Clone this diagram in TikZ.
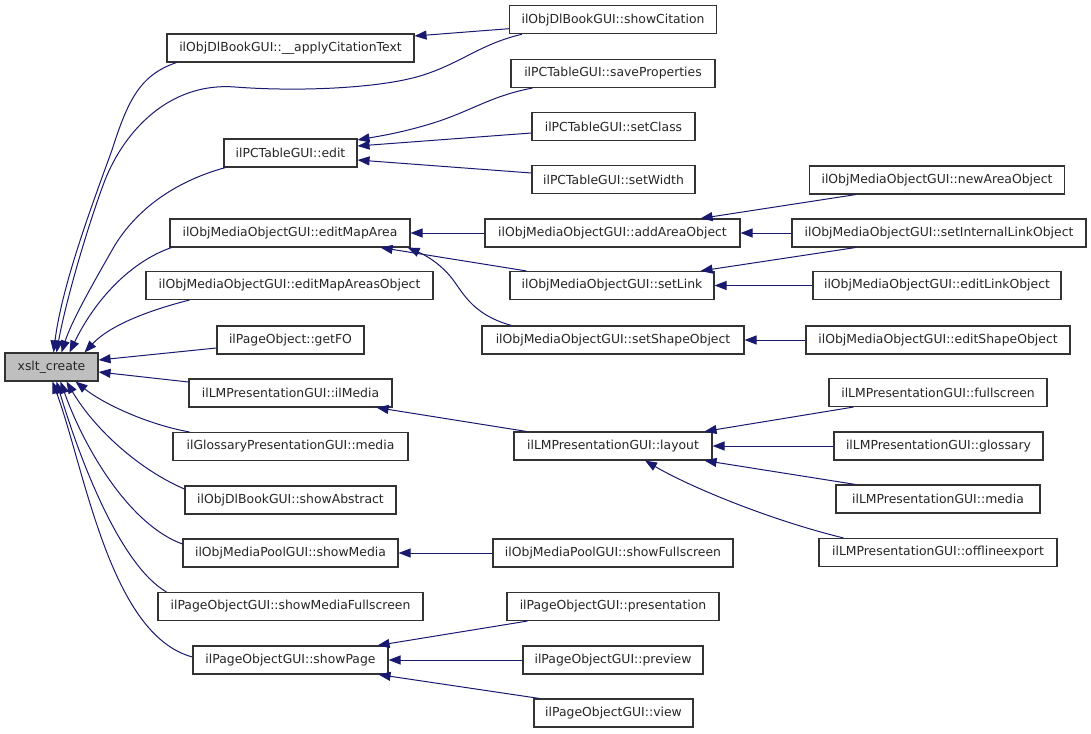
\documentclass[tikz,border=0pt]{standalone}
\usepackage{fontspec}
\setmainfont{DejaVu Sans}
\usetikzlibrary{arrows.meta,calc}
\definecolor{edgeblue}{HTML}{191970}
\definecolor{boxline}{HTML}{333333}
\definecolor{rootfill}{HTML}{BFBFBF}
\begin{document}
\begin{tikzpicture}[x=1pt,y=-1pt,
  fnbox/.style={draw=boxline, line width=1.1pt, fill=white, inner sep=0pt, minimum height=28,
    font=\fontsize{12.4}{14}\selectfont, text=black!85},
  rootbox/.style={fnbox, fill=rootfill},
  calls/.style={draw=edgeblue, line width=1pt, -{Triangle[length=12pt,width=9pt]}, edgeblue}]
\useasboundingbox (0,0) rectangle (1091,733);
% column 1
\node[rootbox, minimum width=93] (xslt) at (51.5,367) {xslt\_create};
% column 2
\node[fnbox, minimum width=247] (apply) at (290.5,48) {ilObjDlBookGUI::\_\_applyCitationText};
\node[fnbox, minimum width=133] (edit) at (290.5,153) {ilPCTableGUI::edit};
\node[fnbox, minimum width=240] (editMapArea) at (290,233) {ilObjMediaObjectGUI::editMapArea};
\node[fnbox, minimum width=287] (editMapAreasObject) at (289.5,285.5) {ilObjMediaObjectGUI::editMapAreasObject};
\node[fnbox, minimum width=147] (getFO) at (290.5,340) {ilPageObject::getFO};
\node[fnbox, minimum width=203] (ilMedia) at (290.5,393) {ilLMPresentationGUI::ilMedia};
\node[fnbox, minimum width=235] (glossaryMedia) at (290.5,446.5) {ilGlossaryPresentationGUI::media};
\node[fnbox, minimum width=211] (showAbstract) at (290.5,500) {ilObjDlBookGUI::showAbstract};
\node[fnbox, minimum width=215] (showMedia) at (290.5,553) {ilObjMediaPoolGUI::showMedia};
\node[fnbox, minimum width=265] (showMediaFullscreen) at (290.5,606.5) {ilPageObjectGUI::showMediaFullscreen};
\node[fnbox, minimum width=195] (showPage) at (290.5,660) {ilPageObjectGUI::showPage};
% column 3
\node[fnbox, minimum width=207] (showCitation) at (613,19.7) {ilObjDlBookGUI::showCitation};
\node[fnbox, minimum width=204] (saveProperties) at (613,73.5) {ilPCTableGUI::saveProperties};
\node[fnbox, minimum width=163] (setClass) at (613.5,126.5) {ilPCTableGUI::setClass};
\node[fnbox, minimum width=163] (setWidth) at (613.5,179.5) {ilPCTableGUI::setWidth};
\node[fnbox, minimum width=255] (addAreaObject) at (612.5,233) {ilObjMediaObjectGUI::addAreaObject};
\node[fnbox, minimum width=204] (setLink) at (612,285.5) {ilObjMediaObjectGUI::setLink};
\node[fnbox, minimum width=262] (setShapeObject) at (613,340) {ilObjMediaObjectGUI::setShapeObject};
\node[fnbox, minimum width=198] (layout) at (613,446) {ilLMPresentationGUI::layout};
\node[fnbox, minimum width=240] (showFullscreen) at (613,553) {ilObjMediaPoolGUI::showFullscreen};
\node[fnbox, minimum width=212] (presentation) at (613,606.5) {ilPageObjectGUI::presentation};
\node[fnbox, minimum width=180] (preview) at (613,660) {ilPageObjectGUI::preview};
\node[fnbox, minimum width=159] (view) at (613.5,713) {ilPageObjectGUI::view};
% column 4
\node[fnbox, minimum width=255] (newAreaObject) at (937,180) {ilObjMediaObjectGUI::newAreaObject};
\node[fnbox, minimum width=294] (setInternalLinkObject) at (939,233) {ilObjMediaObjectGUI::setInternalLinkObject};
\node[fnbox, minimum width=248] (editLinkObject) at (937,285.5) {ilObjMediaObjectGUI::editLinkObject};
\node[fnbox, minimum width=264] (editShapeObject) at (938,340) {ilObjMediaObjectGUI::editShapeObject};
\node[fnbox, minimum width=218] (fullscreen) at (938,392.5) {ilLMPresentationGUI::fullscreen};
\node[fnbox, minimum width=209] (glossary) at (938.5,446) {ilLMPresentationGUI::glossary};
\node[fnbox, minimum width=204] (LMmedia) at (938,499) {ilLMPresentationGUI::media};
\node[fnbox, minimum width=238] (offlineexport) at (938,552.5) {ilLMPresentationGUI::offlineexport};

% edges into xslt_create
\draw[calls] ($(apply.south west)+(10,0)$) .. controls (140,75) and (128,100) .. (112,150)
   .. controls (92,205) and (62,285) .. ($(xslt.north)+(2,0)$);
\draw[calls] ($(showCitation.south west)+(13,0)$) .. controls (480,44) and (460,64) .. (420,76)
   .. controls (380,88) and (300,92) .. (235,87)
   .. controls (170,82) and (125,130) .. (105,180)
   .. controls (88,225) and (66,300) .. ($(xslt.north)+(5,0)$);
\draw[calls] ($(edit.south west)+(2,0)$) .. controls (180,180) and (140,205) .. (115,245)
   .. controls (95,280) and (72,320) .. ($(xslt.north)+(10,0)$);
\draw[calls] ($(editMapArea.south west)+(2,0)$) .. controls (130,262) and (95,300) .. ($(xslt.north)+(18,0)$);
\draw[calls] ($(editMapAreasObject.south west)+(44,0)$) .. controls (150,310) and (110,325) .. ($(xslt.north east)+(-14,0)$);
\draw[calls] ($(getFO.west)+(0,8)$) -- ($(xslt.east)+(0,-7)$);
\draw[calls] ($(ilMedia.west)+(0,-11)$) -- ($(xslt.east)+(0,5)$);
\draw[calls] ($(glossaryMedia.north west)+(17,0)$) .. controls (150,425) and (105,405) .. ($(xslt.south)+(24,0)$);
\draw[calls] ($(showAbstract.west)+(0,-11)$) .. controls (140,470) and (95,430) .. ($(xslt.south)+(15,0)$);
\draw[calls] ($(showMedia.west)+(0,-9)$) .. controls (130,525) and (85,450) .. ($(xslt.south)+(9,0)$);
\draw[calls] ($(showMediaFullscreen.north west)+(9,0)$) .. controls (120,565) and (80,460) .. ($(xslt.south)+(5,0)$);
\draw[calls] ($(showPage.west)+(0,-3)$) .. controls (110,635) and (85,470) .. ($(xslt.south)+(1,0)$);

% other edges
\draw[calls] ($(showCitation.west)+(0,9)$) -- ($(apply.east)+(0,-12)$);
\draw[calls] ($(saveProperties.south west)+(22,0)$) .. controls (490,96) and (470,112) .. (430,124)
   .. controls (400,133) and (380,136) .. ($(edit.east)+(0,-13)$);
\draw[calls] ($(setClass.west)+(0,6.5)$) -- ($(edit.east)+(0,-7)$);
\draw[calls] ($(setWidth.west)+(0,-6.5)$) -- ($(edit.east)+(0,7)$);
\draw[calls] (addAreaObject.west) -- (editMapArea.east);
\draw[calls] ($(setLink.north west)+(17,0)$) -- ($(editMapArea.south east)+(-30,0)$);
\draw[calls] ($(setShapeObject.north west)+(30,0)$) .. controls (470,314) and (462,290) .. (450,276)
   .. controls (438,262) and (425,255) .. ($(editMapArea.south east)+(-3,0)$);
\draw[calls] ($(newAreaObject.south west)+(47,0)$) -- ($(addAreaObject.north east)+(-40,0)$);
\draw[calls] (setInternalLinkObject.west) -- (addAreaObject.east);
\draw[calls] ($(setInternalLinkObject.south west)+(64,0)$) -- ($(setLink.north east)+(-14,0)$);
\draw[calls] (editLinkObject.west) -- (setLink.east);
\draw[calls] (editShapeObject.west) -- (setShapeObject.east);
\draw[calls] ($(layout.north west)+(13,0)$) -- ($(ilMedia.south east)+(-16,0)$);
\draw[calls] ($(fullscreen.south west)+(25,0)$) -- ($(layout.north east)+(-8,0)$);
\draw[calls] (glossary.west) -- (layout.east);
\draw[calls] ($(LMmedia.north west)+(20,0)$) -- ($(layout.south east)+(-8,0)$);
\draw[calls] ($(offlineexport.north west)+(25,0)$) .. controls (770,520) and (690,487) .. ($(layout.south)+(32,0)$);
\draw[calls] (showFullscreen.west) -- (showMedia.east);
\draw[calls] ($(presentation.south west)+(21,0)$) -- ($(showPage.north east)+(-11,0)$);
\draw[calls] (preview.west) -- (showPage.east);
\draw[calls] ($(view.north west)+(6,0)$) -- ($(showPage.south east)+(-10,0)$);
\end{tikzpicture}
\end{document}
